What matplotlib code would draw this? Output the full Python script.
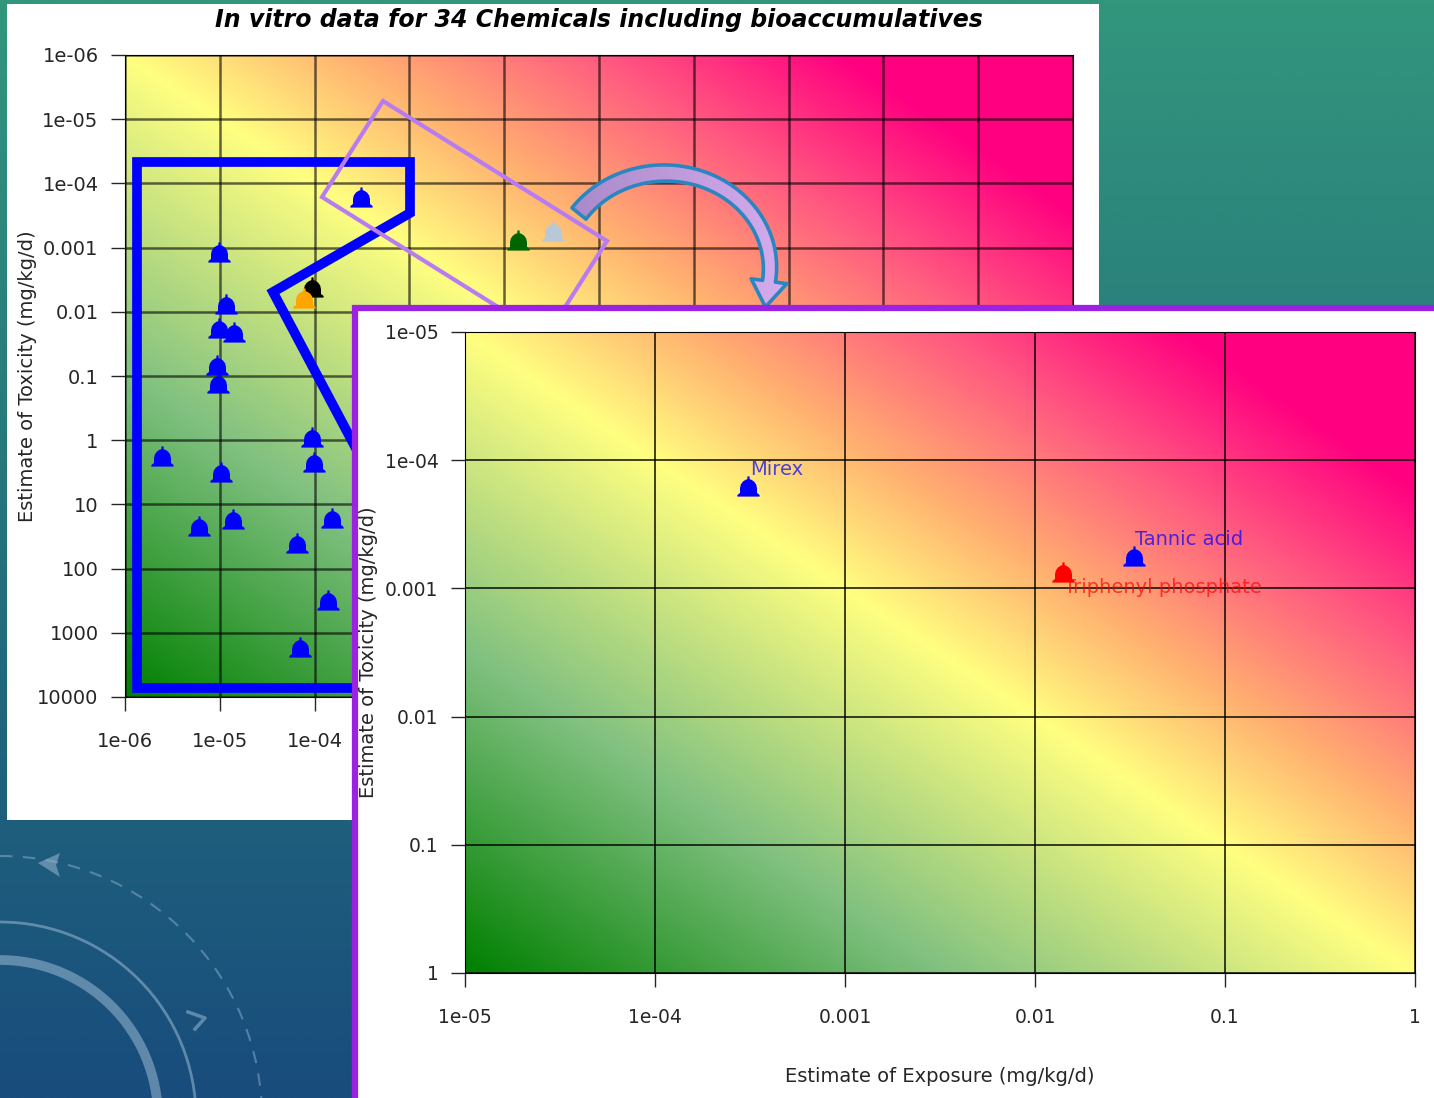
import numpy as np
import matplotlib.pyplot as plt
from matplotlib.colors import LinearSegmentedColormap
from matplotlib.path import Path
from matplotlib.patches import Rectangle, Polygon, Circle
from matplotlib.ticker import NullLocator

W, H = 1434, 1098

title = "In vitro data for 34 Chemicals including bioaccumulatives"
xlabel = "Estimate of Exposure (mg/kg/d)"
ylabel = "Estimate of Toxicity (mg/kg/d)"

main_ticks = [1e-06, 1e-05, 1e-04, 1e-03, 1e-02, 1e-01, 1, 10, 100, 1000, 10000]
main_ticklabels = ["1e-06", "1e-05", "1e-04", "0.001", "0.01", "0.1",
                   "1", "10", "100", "1000", "10000"]
inset_ticks = [1e-05, 1e-04, 1e-03, 1e-02, 1e-01, 1]
inset_ticklabels = ["1e-05", "1e-04", "0.001", "0.01", "0.1", "1"]

# all chemicals: exposure, toxicity, colour
main_x = [9.8e-06, 1.16e-05, 9.8e-06, 1.40e-05, 9.3e-06, 9.5e-06,
          2.45e-06, 1.03e-05, 6.0e-06, 1.37e-05, 9.5e-05, 9.75e-05,
          1.51e-04, 6.6e-05, 1.37e-04, 7.1e-05,
          3.1e-04, 9.5e-05, 7.8e-05, 0.014, 0.033]
main_y = [1.17e-03, 7.6e-03, 0.018, 0.021, 0.067, 0.13,
          1.76, 3.1, 22, 17, 0.89, 2.2,
          16, 40, 310, 1660,
          1.6e-04, 4.1e-03, 6.1e-03, 7.5e-04, 5.6e-04]
main_colors = ["blue"] * 16 + ["blue", "black", "orange", "darkgreen", "#b8c8d8"]

# the bioaccumulatives, zoomed
inset_names = ["Mirex", "Tannic acid", "Triphenyl phosphate"]
inset_x = [3.1e-04, 0.033, 0.014]
inset_y = [1.6e-04, 5.6e-04, 7.5e-04]
inset_colors = ["blue", "blue", "red"]

plt.rcParams["font.family"] = "DejaVu Sans"

# bell shaped marker
bell_verts = [(-0.55, -0.5), (-0.55, -0.42), (-0.42, -0.32), (-0.42, -0.08),
              (-0.38, 0.1), (-0.28, 0.24), (-0.15, 0.33), (-0.06, 0.36),
              (-0.05, 0.5), (0.05, 0.5), (0.06, 0.36), (0.15, 0.33),
              (0.28, 0.24), (0.38, 0.1), (0.42, -0.08), (0.42, -0.32),
              (0.55, -0.42), (0.55, -0.5), (-0.55, -0.5)]
bell = Path(bell_verts, closed=True)

zone_cmap = LinearSegmentedColormap.from_list("zone", [
    (0.0, "#008000"), (0.25, "#80c080"), (0.5, "#ffff80"),
    (0.62, "#ffb070"), (0.75, "#ff5a80"), (0.88, "#ff0080"), (1.0, "#ff0080")])


def risk_background(ax):
    g = np.linspace(0, 1, 400)
    zone = (g[None, :] + g[::-1, None]) / 2
    ax.set_autoscale_on(False)
    ax.imshow(zone, cmap=zone_cmap, vmin=0, vmax=1, extent=(0, 1, 0, 1),
              transform=ax.transAxes, aspect="auto", zorder=0,
              interpolation="bilinear")


def style_log_axes(ax, ticks, labels, lim, grid_lw, grid_alpha):
    ax.set_xscale("log")
    ax.set_yscale("log")
    ax.set_xlim(lim[0], lim[1])
    ax.set_ylim(lim[1], lim[0])
    ax.set_xticks(ticks)
    ax.set_xticklabels(labels)
    ax.set_yticks(ticks)
    ax.set_yticklabels(labels)
    ax.xaxis.set_minor_locator(NullLocator())
    ax.yaxis.set_minor_locator(NullLocator())
    ax.tick_params(length=10, width=1, labelsize=14, colors="#262626")
    ax.tick_params(axis="x", pad=15)
    ax.tick_params(axis="y", pad=9)
    ax.grid(True, color="black", lw=grid_lw, alpha=grid_alpha)
    ax.set_axisbelow(False)
    risk_background(ax)


fig = plt.figure(figsize=(W / 100, H / 100), dpi=100)

# slide background
ax_bg = fig.add_axes([0, 0, 1, 1], zorder=0)
ax_bg.set_xlim(0, W)
ax_bg.set_ylim(H, 0)
ax_bg.axis("off")
top = np.array([50, 150, 124]) / 255
bottom = np.array([24, 76, 124]) / 255
t = np.linspace(0, 1, 200)[:, None, None]
sky = top * (1 - t) + bottom * t
sky = np.repeat(sky, 2, axis=1)
ax_bg.imshow(sky, extent=(0, W, H, 0), aspect="auto", interpolation="bilinear")
deco = "#8fb0cc"
ax_bg.add_patch(Circle((0, 1118), 158, fill=False, ec=deco, lw=7, alpha=0.6))
ax_bg.add_patch(Circle((0, 1118), 196, fill=False, ec=deco, lw=2, alpha=0.6))
ax_bg.add_patch(Circle((0, 1118), 262, fill=False, ec=deco, lw=1.5, alpha=0.5,
                       ls=(0, (6, 5))))
ax_bg.add_patch(Polygon([(38, 863), (60, 853), (56, 865), (60, 877)],
                        fc=deco, ec="none", alpha=0.6))
ax_bg.plot([188, 205, 195], [1012, 1018, 1029], color=deco, lw=2.5, alpha=0.6)
ax_bg.add_patch(Rectangle((7, 4), 1092, 816, fc="white", ec="none"))
ax_bg.text(599, 20, title, ha="center", va="center", fontsize=17,
           fontweight="bold", fontstyle="italic")
ax_bg.text(28, 376, ylabel, ha="center", va="center", rotation=90,
           fontsize=14, color="#262626")

# main chart
ax = fig.add_axes([125 / W, 1 - 697 / H, 948 / W, 642 / H], zorder=1)
style_log_axes(ax, main_ticks, main_ticklabels, (1e-06, 1e4), 1.8, 0.6)
for x, y, c in zip(main_x, main_y, main_colors):
    ax.plot(x, y, marker=bell, ms=16, color=c, mew=0, ls="none", zorder=5)

# highlights drawn over the main chart
ax_ov = fig.add_axes([0, 0, 1, 1], zorder=2)
ax_ov.set_xlim(0, W)
ax_ov.set_ylim(H, 0)
ax_ov.axis("off")
ax_ov.patch.set_alpha(0)
ax_ov.add_patch(Polygon([(137, 162), (410, 162), (410, 213), (273, 292),
                         (378, 490), (378, 688), (137, 688)],
                        closed=True, fill=False, ec="#0000ff", lw=7,
                        joinstyle="miter"))
ax_ov.add_patch(Polygon([(383, 101), (607, 241), (546, 337), (322, 197)],
                        closed=True, fill=False, ec="#b87cf0", lw=3))

# curved arrow
cx, cy, rx, ry = 665, 268, 105, 95
th = np.radians(np.linspace(145, -8, 80))
px = cx + rx * np.cos(th)
py = cy - ry * np.sin(th)
tx, ty = np.gradient(px), np.gradient(py)
nrm = np.hypot(tx, ty)
tx, ty = tx / nrm, ty / nrm
nx, ny = -ty, tx
w = np.linspace(18, 13, th.size) / 2
side_a = np.c_[px + nx * w, py + ny * w]
side_b = np.c_[px - nx * w, py - ny * w]
hw = 18
head = [(px[-1] + nx[-1] * hw, py[-1] + ny[-1] * hw),
        (px[-1] + tx[-1] * 26, py[-1] + ty[-1] * 26),
        (px[-1] - nx[-1] * hw, py[-1] - ny[-1] * hw)]
arrow_verts = np.vstack([side_a, head, side_b[::-1]])
arrow = Polygon(arrow_verts, closed=True, fc="none", ec="none")
ax_ov.add_patch(arrow)
shade = np.linspace(0, 1, 100)[None, :, None]
fill = (np.array([168, 136, 200]) * (1 - shade) + np.array([218, 176, 242]) * shade) / 255
fill_im = ax_ov.imshow(fill, extent=(560, 810, 320, 150), aspect="auto",
                       interpolation="bilinear")
fill_im.set_clip_path(arrow)
ax_ov.add_patch(Polygon(arrow_verts, closed=True, fill=False, ec="#2a86c0",
                        lw=2.6, joinstyle="round"))
ax_ov.set_xlim(0, W)
ax_ov.set_ylim(H, 0)

# zoom panel
ax_top = fig.add_axes([0, 0, 1, 1], zorder=3)
ax_top.set_xlim(0, W)
ax_top.set_ylim(H, 0)
ax_top.axis("off")
ax_top.patch.set_alpha(0)
ax_top.add_patch(Rectangle((355, 308), 1200, 900, fc="white", ec="#9b22e2",
                           lw=4.5))
ax_top.text(940, 1076, xlabel, ha="center", va="center", fontsize=14,
            color="#262626")
ax_top.text(368, 652, ylabel, ha="center", va="center", rotation=90,
            fontsize=14, color="#262626")

ax_in = fig.add_axes([465 / W, 1 - 973 / H, 950 / W, 641 / H], zorder=4)
style_log_axes(ax_in, inset_ticks, inset_ticklabels, (1e-05, 1), 1.4, 0.75)
ax_in.tick_params(labelsize=13.5)
for name, x, y, c in zip(inset_names, inset_x, inset_y, inset_colors):
    ax_in.plot(x, y, marker=bell, ms=16, color=c, mew=0, ls="none", zorder=5)
    below = c == "red"
    ax_in.annotate(name, (x, y), xytext=(1, -4 if below else 5),
                   textcoords="offset points", ha="left",
                   va="top" if below else "bottom", fontsize=14,
                   color=c, alpha=0.7, zorder=6)

fig.savefig("out.png", dpi=100)
